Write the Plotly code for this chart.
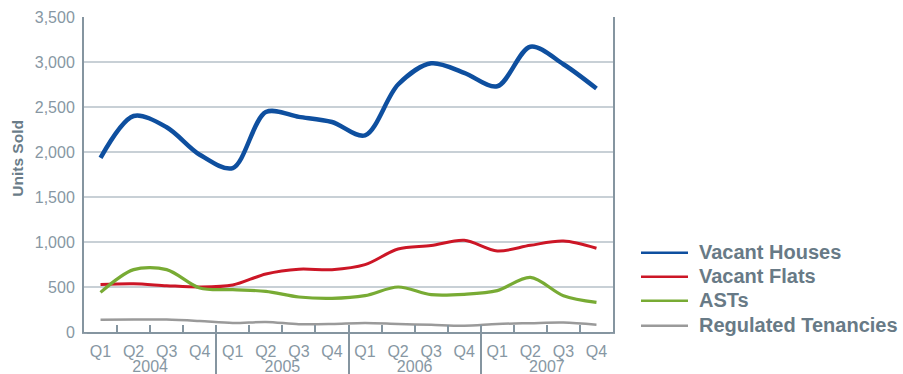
import plotly.graph_objects as go

years = ["2004"] * 4 + ["2005"] * 4 + ["2006"] * 4 + ["2007"] * 4
quarters = ["Q1", "Q2", "Q3", "Q4"] * 4

vacant_houses = [1935, 2400, 2275, 1970, 1822, 2444, 2390, 2333,
                 2185, 2750, 2985, 2880, 2730, 3170, 2975, 2705]
vacant_flats = [528, 535, 515, 500, 522, 645, 698, 693,
                748, 922, 960, 1019, 900, 963, 1010, 930]
asts = [440, 693, 693, 489, 470, 452, 389, 374,
        404, 500, 415, 419, 460, 607, 404, 330]
regulated = [135, 138, 138, 122, 100, 112, 87, 89,
             100, 89, 80, 70, 89, 98, 105, 81]

names = ["Vacant Houses", "Vacant Flats", "ASTs", "Regulated Tenancies"]
values = [vacant_houses, vacant_flats, asts, regulated]
colors = ["#0e4f9f", "#cc1626", "#78ab34", "#9a9a9a"]
widths = [4.5, 3, 3.2, 2.5]

fig = go.Figure()
for name, vals, color, w in zip(names, values, colors, widths):
    fig.add_trace(go.Scatter(
        x=[years, quarters], y=vals, name=name, mode="lines",
        line=dict(color=color, width=w, shape="spline", smoothing=0.9),
        showlegend=False,
    ))

tick_col = "#8797a3"
axis_col = "#8595a0"
grid_col = "#c8d0d6"
legend_text_col = "#687a86"

# plot area: x 84..613 px, y 17..332 px
PX0, PX1, PY0, PY1 = 84, 613, 17.3, 332.3


def px(xp):
    return (xp - PX0) / (PX1 - PX0)


def py(yp):
    return (PY1 - yp) / (PY1 - PY0)


shapes = []
annotations = []
legend_rows = [252, 276, 300, 325]
for name, color, yrow in zip(names, colors, legend_rows):
    shapes.append(dict(
        type="line", xref="paper", yref="paper",
        x0=px(641), x1=px(688), y0=py(yrow + 1), y1=py(yrow + 1),
        line=dict(color=color, width=2.5),
    ))
    annotations.append(dict(
        text=name, showarrow=False, xref="paper", yref="paper",
        x=px(697), y=py(yrow), xanchor="left", yanchor="middle",
        font=dict(size=20, color=legend_text_col, weight="bold"),
    ))

# hide the outer group dividers below the axis ends
for xe in (PX0, PX1):
    shapes.append(dict(
        type="rect", xref="paper", yref="paper", layer="above",
        x0=px(xe - 3), x1=px(xe + 3), y0=py(334.2), y1=py(376),
        fillcolor="white", line=dict(width=0),
    ))

annotations.append(dict(
    text="Units Sold", textangle=-90, showarrow=False,
    xref="paper", yref="paper", x=px(18), y=py(159),
    xanchor="center", yanchor="middle",
    font=dict(size=15.5, color="#6a7c88", weight="bold"),
))

fig.update_layout(
    width=903, height=374,
    margin=dict(l=84, r=290, t=17, b=42, autoexpand=False),
    paper_bgcolor="white", plot_bgcolor="white",
    font=dict(family="Liberation Sans, Arial, sans-serif", size=16, color=tick_col),
    showlegend=False,
    xaxis=dict(
        type="multicategory", range=[-0.5, 15.5], automargin=False,
        showline=True, linecolor=axis_col, linewidth=2,
        ticks="inside", ticklen=7, tickcolor=axis_col, tickwidth=1.5,
        tickson="boundaries", ticklabelstandoff=4,
        showdividers=True, dividercolor=axis_col, dividerwidth=1.5,
        showgrid=False,
        tickfont=dict(size=16, color=tick_col),
    ),
    yaxis=dict(
        range=[0, 3500], dtick=500, tickformat=",d", automargin=False,
        showline=True, linecolor=axis_col, linewidth=2, mirror=True,
        showgrid=True, gridcolor=grid_col, gridwidth=1.5,
        zeroline=False, ticks="", ticklabelstandoff=4,
        tickfont=dict(size=16, color=tick_col),
    ),
    shapes=shapes,
    annotations=annotations,
)

fig.write_html("out.html")
